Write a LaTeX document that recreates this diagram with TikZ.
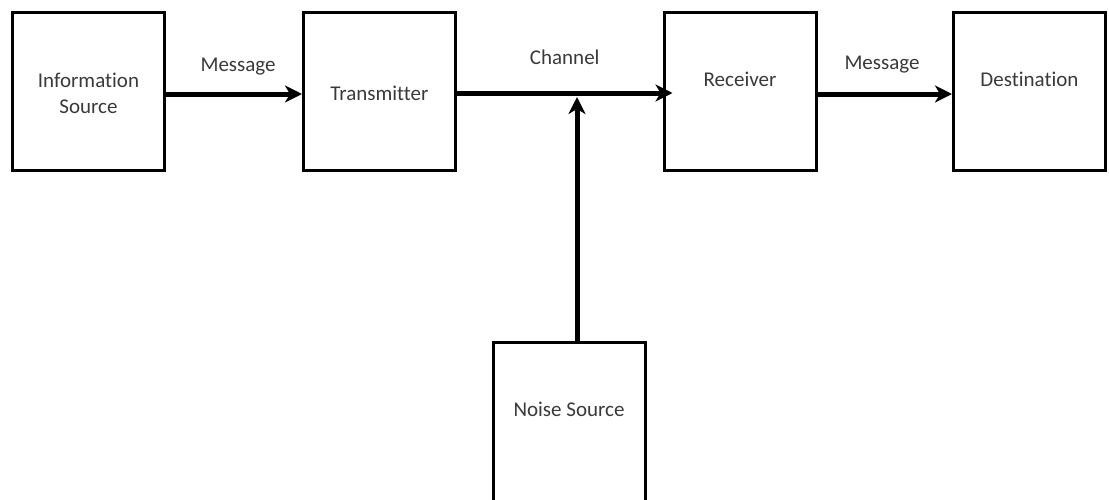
\documentclass[tikz,border=0pt]{standalone}
\usepackage{fontspec}
\setmainfont{Carlito}[Ligatures={NoCommon}]
\usetikzlibrary{arrows.meta}
\definecolor{inkgray}{HTML}{3A3A3A}
\tikzset{
  block/.style={draw=black, line width=3pt, fill=white, minimum width=152pt,
    minimum height=158pt, inner sep=0pt, align=center, text=inkgray,
    font=\fontsize{21}{26}\selectfont},
  flow/.style={line width=5pt, -{Stealth[length=17pt, width=17pt, inset=5pt]}},
  tag/.style={text=inkgray, font=\fontsize{21}{24}\selectfont, inner sep=0pt}
}
% pad a label on top so that it sits lower in its block
\newcommand{\padtop}[2]{\raisebox{0pt}[\dimexpr\height+#1\relax][\depth]{#2}}
\begin{document}
\begin{tikzpicture}[x=1pt, y=-1pt]
  \useasboundingbox (0,0) rectangle (1109,499);
  \clip (0,0) rectangle (1109,499);
  \fill[white] (0,0) rectangle (1109,499);

  % the five blocks of the communication chain
  \node[block] (is) at (88.5,91.5)
    {\padtop{8pt}{\begin{tabular}{@{}c@{}}Information\\Source\end{tabular}}};
  \node[block] (tr) at (379.5,91.5) {\padtop{4pt}{Transmitter}};
  \node[block] (rc) at (740,91.5) {\raisebox{24pt}{Receiver}};
  \node[block] (ds) at (1029.5,91.5) {\raisebox{24pt}{Destination}};
  \node[block, minimum height=220pt] (ns) at (569,452.5) {\raisebox{86pt}{Noise Source}};

  % point on the channel where the noise enters
  \coordinate (tap) at (577,97);

  % signal path
  \draw[flow] ([yshift=-2.5pt]is.east) -- ([yshift=-2.5pt]tr.west)
    node[tag, pos=0.53, yshift=27pt] (m1) {Message};
  \draw[flow] ([yshift=-1.5pt]tr.east) -- ([yshift=-1.5pt, xshift=10pt]rc.west)
    node[tag, pos=0.5, yshift=36pt] (ch) {Channel};
  \draw[flow] ([yshift=-2.5pt]rc.east) -- ([yshift=-2.5pt]ds.west)
    node[tag, pos=0.48, yshift=29pt] (m2) {Message};

  % noise injected into the channel
  \draw[flow] ([xshift=8pt]ns.north) -- (tap);
\end{tikzpicture}
\end{document}
